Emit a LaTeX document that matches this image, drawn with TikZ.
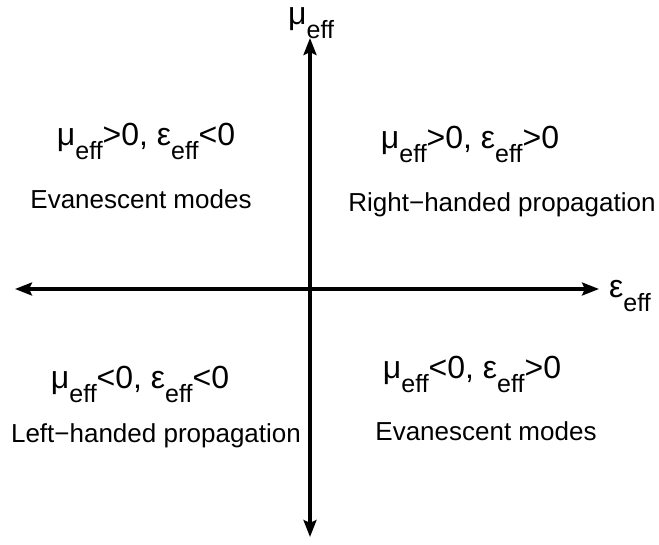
\documentclass[tikz,border=0pt]{standalone}
\usepackage{fontspec}
\setmainfont{Liberation Sans}
\usetikzlibrary{arrows.meta}
\tikzset{
  axis/.style={{Stealth[length=17pt,width=13pt,inset=3pt]}-{Stealth[length=17pt,width=13pt,inset=3pt]},line width=3.2pt},
  sign/.style={font=\fontsize{32}{34}\selectfont,inner sep=0pt,anchor=base},
  regime/.style={font=\fontsize{26}{30}\selectfont,inner sep=0pt,anchor=base},
  axislabel/.style={font=\fontsize{32}{34}\selectfont,inner sep=0pt,anchor=base west}
}
\newcommand{\eff}{\raisebox{-14pt}{\fontsize{25}{27}\selectfont eff}}

\begin{document}
\begin{tikzpicture}[x=1pt,y=-1pt]
  \useasboundingbox (0,0) rectangle (659,544);

  % axes
  \coordinate (west) at (15,289);
  \coordinate (east) at (599,289);
  \coordinate (north) at (310,38);
  \coordinate (south) at (310,537);
  \draw[axis] (west) -- (east);
  \draw[axis] (south) -- (north);

  \node[axislabel] (mulabel) at (288,24) {μ\eff};
  \node[axislabel] (epslabel) at (609,297) {ε\eff};

  % quadrants
  \node[sign] (tlsign) at (146,145) {μ\eff>0, ε\eff<0};
  \node[regime] (tltext) at (141,208) {Evanescent modes};
  \node[sign] (trsign) at (470,148) {μ\eff>0, ε\eff>0};
  \node[regime] (trtext) at (502,211) {Right−handed propagation};
  \node[sign] (blsign) at (140,388) {μ\eff<0, ε\eff<0};
  \node[regime] (bltext) at (156,442) {Left−handed propagation};
  \node[sign] (brsign) at (472,378) {μ\eff<0, ε\eff>0};
  \node[regime] (brtext) at (486,440) {Evanescent modes};
\end{tikzpicture}
\end{document}
